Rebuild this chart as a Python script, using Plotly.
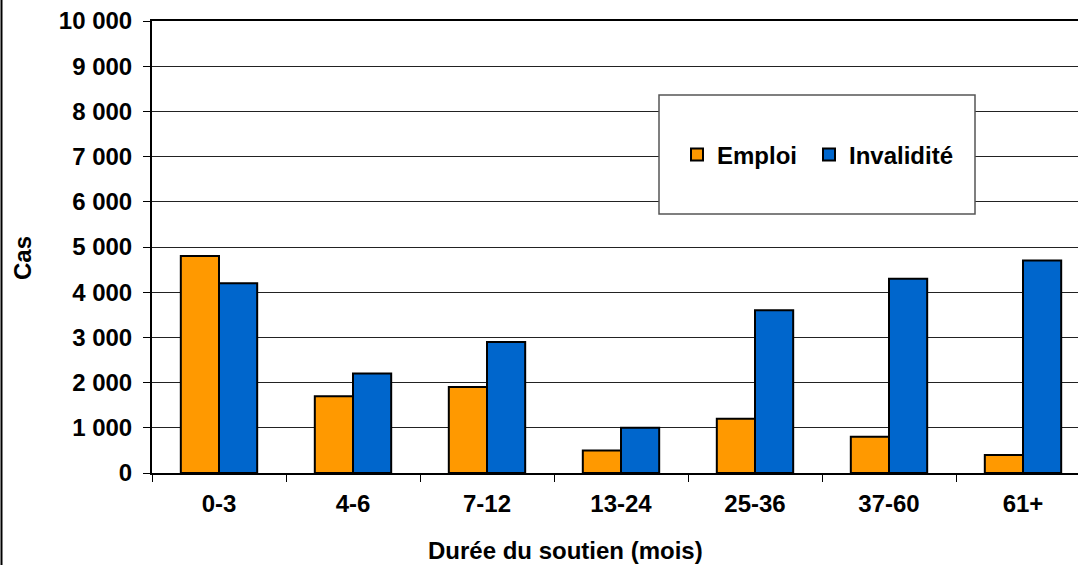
import plotly.graph_objects as go

# Case counts by length of support
categories = ["0-3", "4-6", "7-12", "13-24", "25-36", "37-60", "61+"]
emploi = [4800, 1700, 1900, 500, 1200, 800, 400]
invalidite = [4200, 2200, 2900, 1000, 3600, 4300, 4700]

y_tickvals = [0, 1000, 2000, 3000, 4000, 5000, 6000, 7000, 8000, 9000, 10000]
y_ticktext = ["0", "1 000", "2 000", "3 000", "4 000", "5 000",
              "6 000", "7 000", "8 000", "9 000", "10 000"]

FONT = "Liberation Sans, Arial, sans-serif"
FS = 24
W, H = 1078, 565
ML, MT, MB, MR = 152, 21, 92, 0
PW, PH = W - ML - MR, H - MT - MB


def px_x(x):
    return (x - ML) / PW


def px_y(y):
    return (H - MB - y) / PH


def bold(size=FS):
    return dict(family=FONT, size=size, color="black", weight="bold")


def legend_at(x_px):
    return dict(orientation="h", x=px_x(x_px), y=px_y(155), xanchor="left",
                yanchor="middle", bgcolor="rgba(0,0,0,0)", font=bold(),
                itemwidth=30)


fig = go.Figure()
fig.add_trace(go.Bar(
    x=categories, y=emploi, name="Emploi", legend="legend", showlegend=True,
    marker=dict(color="#FF9900", line=dict(color="black", width=2)),
))
fig.add_trace(go.Bar(
    x=categories, y=invalidite, name="Invalidité", legend="legend2",
    showlegend=True,
    marker=dict(color="#0066CC", line=dict(color="black", width=2)),
))

# legend frame
fig.add_shape(type="rect", xref="paper", yref="paper",
              x0=px_x(659), x1=px_x(975), y0=px_y(214), y1=px_y(95),
              line=dict(color="#555555", width=1.5), fillcolor="white",
              layer="above")
# outer frame edge on the left
fig.add_shape(type="line", xref="paper", yref="paper",
              x0=px_x(1.5), x1=px_x(1.5), y0=px_y(H), y1=px_y(0),
              line=dict(color="black", width=2))

fig.add_annotation(text="Durée du soutien (mois)", xref="paper", yref="paper",
                   x=px_x(565), y=px_y(550), xanchor="center", yanchor="middle",
                   showarrow=False, font=bold())
fig.add_annotation(text="Cas", xref="paper", yref="paper",
                   x=px_x(22), y=px_y(258), xanchor="center", yanchor="middle",
                   showarrow=False, textangle=-90, font=bold())

fig.update_layout(
    width=W, height=H,
    margin=dict(l=ML, r=MR, t=MT, b=MB, pad=0),
    paper_bgcolor="white", plot_bgcolor="white",
    barmode="group", bargap=0.43, bargroupgap=0,
    font=bold(),
    showlegend=True,
    legend=legend_at(677),
    legend2=legend_at(809),
    xaxis=dict(range=[-0.5, 6.5 - 12 / 134], showline=True, linecolor="black",
               linewidth=2, mirror=True, ticks="outside", ticklen=7,
               tickcolor="black", tickwidth=1, tickson="boundaries",
               showgrid=False, fixedrange=True, ticklabelstandoff=8,
               tickfont=bold()),
    yaxis=dict(range=[0, 10000], tickvals=y_tickvals, ticktext=y_ticktext,
               showline=True, linecolor="black", linewidth=2,
               ticks="outside", ticklen=7, tickcolor="black", tickwidth=1,
               showgrid=True, gridcolor="#222222", gridwidth=1,
               zeroline=False, fixedrange=True, ticklabelstandoff=6,
               tickfont=bold()),
)

fig.write_html("out.html")
